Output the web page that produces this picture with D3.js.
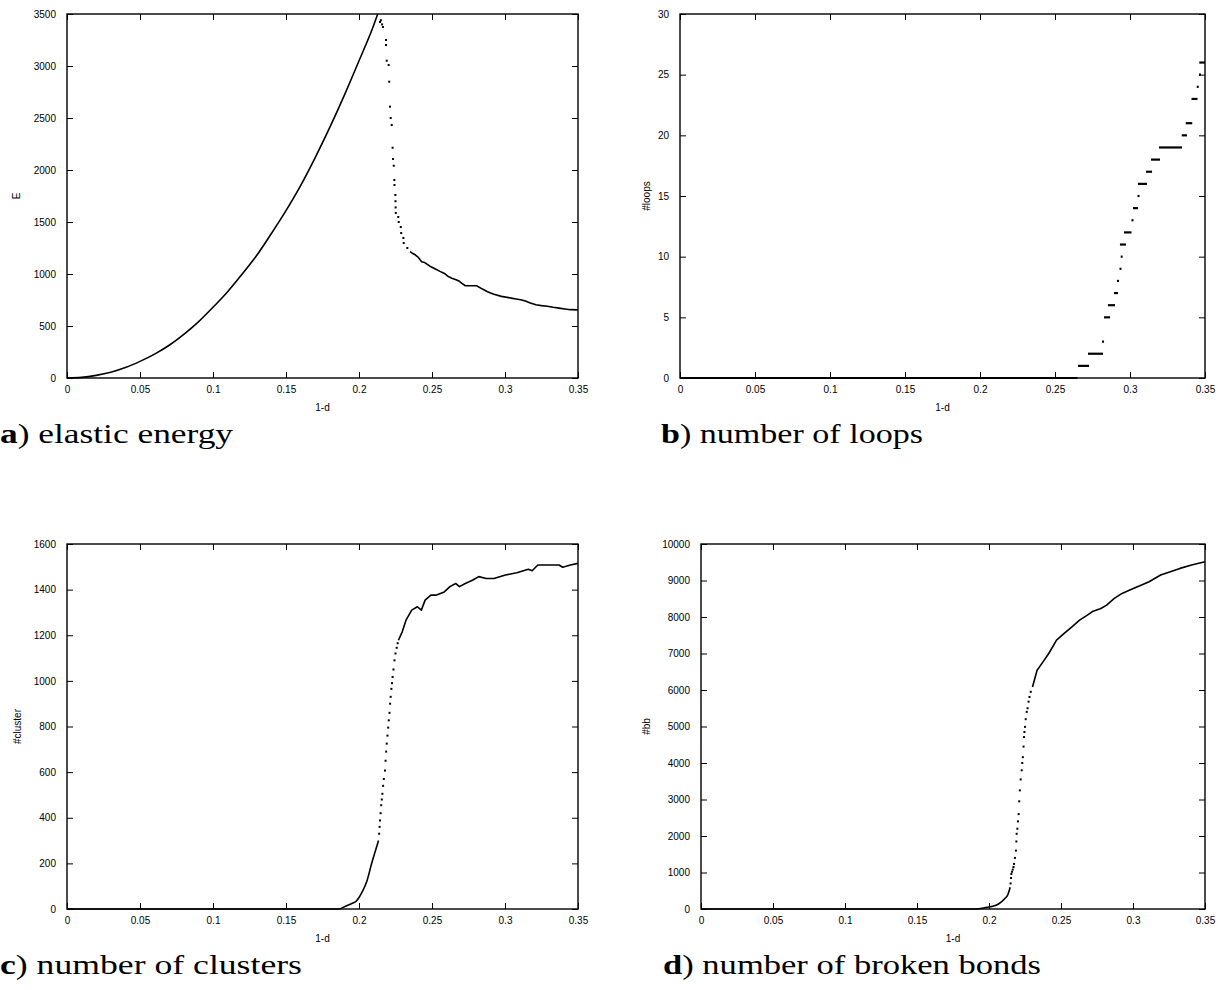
<!DOCTYPE html>
<html>
<head>
<meta charset="utf-8">
<script src="https://cdn.jsdelivr.net/npm/d3@7"></script>
<style>
  html, body { margin: 0; padding: 0; background: #fff; }
  svg { display: block; }
</style>
</head>
<body>
<svg id="chart" width="1226" height="990"></svg>
<script>
// ---------------- DATA ----------------
const xTicks = [0, 0.05, 0.1, 0.15, 0.2, 0.25, 0.3, 0.35];
const xTickLabels = ["0", "0.05", "0.1", "0.15", "0.2", "0.25", "0.3", "0.35"];

// a) elastic energy
const energyTicks = [0, 500, 1000, 1500, 2000, 2500, 3000, 3500];
const energyRiseX = [0, 0.01, 0.02, 0.03, 0.04, 0.05, 0.06, 0.07, 0.08, 0.09, 0.10, 0.11, 0.12, 0.13, 0.14, 0.15, 0.16, 0.17, 0.18, 0.19, 0.20, 0.21, 0.2128];
const energyRiseY = [0, 6, 25, 55, 100, 160, 230, 315, 420, 540, 680, 830, 1000, 1180, 1390, 1610, 1850, 2120, 2410, 2720, 3050, 3390, 3500];
const energyDotsX = [0.2144, 0.2150, 0.2158, 0.2164, 0.2185, 0.2185, 0.2190, 0.2203, 0.2207, 0.2212, 0.2217, 0.2224, 0.2230, 0.2233, 0.2238, 0.2242, 0.2243, 0.2249, 0.2250, 0.2251, 0.2252, 0.2269, 0.2272, 0.2286, 0.2289, 0.2304, 0.2306, 0.2331];
const energyDotsY = [3423, 3440, 3400, 3375, 3250, 3202, 3051, 3010, 2849, 2609, 2500, 2433, 2214, 2106, 2041, 1904, 1856, 1760, 1700, 1640, 1587, 1548, 1500, 1452, 1394, 1346, 1298, 1250];
const energyTailX = [0.2349, 0.2365, 0.2385, 0.2404, 0.2429, 0.2450, 0.2486, 0.2520, 0.2555, 0.2585, 0.2612, 0.2636, 0.2665, 0.2688, 0.2705, 0.2728, 0.2806, 0.2846, 0.2880, 0.2924, 0.2976, 0.3042, 0.3075, 0.3107, 0.3140, 0.3173, 0.3212, 0.3250, 0.3290, 0.3330, 0.3370, 0.3410, 0.3448, 0.3500];
const energyTailY = [1215, 1200, 1185, 1163, 1118, 1110, 1075, 1050, 1025, 1005, 975, 960, 945, 930, 910, 887, 887, 855, 830, 805, 785, 768, 760, 752, 740, 722, 704, 696, 690, 680, 672, 664, 657, 655];

// b) number of loops (level, start, end)
const loopsTicks = [0, 5, 10, 15, 20, 25, 30];
const loopsLevel = [0, 1, 2, 3, 5, 6, 7, 8, 9, 10, 11, 12, 13, 14, 15, 16, 17, 18, 19, 20, 21, 23, 24, 25, 26];
const loopsStart = [0, 0.2653, 0.2720, 0.2813, 0.2827, 0.2853, 0.2893, 0.2913, 0.2930, 0.2938, 0.2933, 0.2960, 0.3010, 0.3020, 0.3050, 0.3053, 0.3107, 0.3140, 0.3193, 0.3345, 0.3372, 0.3410, 0.3445, 0.3460, 0.3462];
const loopsEnd   = [0.2650, 0.2727, 0.2820, 0.2827, 0.2867, 0.2900, 0.2920, 0.2927, 0.2936, 0.2944, 0.2973, 0.3010, 0.3016, 0.3053, 0.3056, 0.3113, 0.3147, 0.3200, 0.3347, 0.3380, 0.3415, 0.3450, 0.3451, 0.3466, 0.3500];

// c) number of clusters
const clusterTicks = [0, 200, 400, 600, 800, 1000, 1200, 1400, 1600];
const clusterRiseX = [0, 0.1864, 0.1900, 0.1955, 0.1980, 0.2020, 0.2055, 0.2086, 0.2113, 0.2134];
const clusterRiseY = [0, 0, 10, 25, 34, 73, 124, 198, 256, 300];
const clusterDotsX = [0.2138, 0.2141, 0.2144, 0.2148, 0.2152, 0.2156, 0.2160, 0.2165, 0.2170, 0.2178, 0.2182, 0.2186, 0.2190, 0.2195, 0.2200, 0.2204, 0.2209, 0.2213, 0.2217, 0.2222, 0.2226, 0.2230, 0.2236, 0.2243, 0.2250, 0.2258, 0.2265];
const clusterDotsY = [330, 360, 388, 420, 455, 480, 505, 540, 570, 607, 650, 690, 725, 760, 795, 827, 860, 900, 930, 965, 990, 1017, 1050, 1090, 1120, 1145, 1165];
const clusterTailX = [0.2270, 0.2296, 0.2322, 0.2361, 0.2400, 0.2427, 0.2453, 0.2492, 0.2531, 0.2584, 0.2623, 0.2662, 0.2688, 0.2728, 0.2780, 0.2820, 0.2872, 0.2924, 0.3003, 0.3081, 0.3160, 0.3186, 0.3225, 0.3290, 0.3370, 0.3395, 0.3448, 0.3500];
const clusterTailY = [1178, 1215, 1266, 1310, 1325, 1310, 1354, 1376, 1376, 1390, 1413, 1427, 1413, 1427, 1442, 1457, 1449, 1449, 1464, 1474, 1489, 1483, 1508, 1508, 1508, 1498, 1508, 1515];

// d) number of broken bonds
const bbTicks = [0, 1000, 2000, 3000, 4000, 5000, 6000, 7000, 8000, 9000, 10000];
const bbRiseX = [0, 0.1906, 0.1986, 0.2026, 0.2066, 0.2107, 0.2133, 0.2147];
const bbRiseY = [0, 0, 46, 73, 137, 274, 412, 595];
const bbDotsX = [0.2150, 0.2153, 0.2155, 0.2160, 0.2165, 0.2170, 0.2174, 0.2180, 0.2187, 0.2190, 0.2192, 0.2197, 0.2201, 0.2206, 0.2210, 0.2214, 0.2220, 0.2227, 0.2231, 0.2235, 0.2240, 0.2243, 0.2246, 0.2250, 0.2255, 0.2262, 0.2268, 0.2275, 0.2281, 0.2290];
const bbDotsY = [700, 850, 960, 1020, 1080, 1150, 1235, 1400, 1600, 1850, 2060, 2200, 2400, 2600, 2950, 3250, 3550, 3800, 4000, 4160, 4450, 4710, 4850, 4990, 5200, 5400, 5500, 5680, 5810, 5950];
const bbTailX = [0.2302, 0.2334, 0.2375, 0.2415, 0.2469, 0.2522, 0.2576, 0.2629, 0.2683, 0.2723, 0.2777, 0.2817, 0.2870, 0.2924, 0.2978, 0.3031, 0.3112, 0.3192, 0.3259, 0.3326, 0.3407, 0.3500];
const bbTailY = [6080, 6540, 6770, 7000, 7365, 7550, 7730, 7914, 8050, 8160, 8234, 8325, 8509, 8646, 8737, 8829, 8966, 9149, 9240, 9332, 9423, 9515];

// ---------------- DRAWING ----------------
const svg = d3.select("#chart");
const zip = (xs, ys) => xs.map((x, i) => [x, ys[i]]);

const panels = [
  { left: 67, right: 578, top: 14, bottom: 378, yMax: 3500, yTicks: energyTicks, ylabel: "E", ylabelX: 17,
    letter: "a)", caption: " elastic energy", capX: 0, capY: 443, capW: 233,
    lines: [{ pts: zip(energyRiseX, energyRiseY), smooth: true }, { pts: zip(energyTailX, energyTailY) }], dots: zip(energyDotsX, energyDotsY) },
  { left: 680, right: 1205, top: 14, bottom: 378, yMax: 30, yTicks: loopsTicks, ylabel: "#loops", ylabelX: 647,
    letter: "b)", caption: " number of loops", capX: 661, capY: 443, capW: 262,
    lines: [], dots: [], steps: loopsLevel.map((v, i) => [loopsStart[i], loopsEnd[i], v]) },
  { left: 67, right: 578, top: 544, bottom: 909, yMax: 1600, yTicks: clusterTicks, ylabel: "#cluster", ylabelX: 18,
    letter: "c)", caption: " number of clusters", capX: 0, capY: 974, capW: 302,
    lines: [{ pts: zip(clusterRiseX, clusterRiseY), smooth: true }, { pts: zip(clusterTailX, clusterTailY) }], dots: zip(clusterDotsX, clusterDotsY) },
  { left: 701, right: 1205, top: 544, bottom: 909, yMax: 10000, yTicks: bbTicks, ylabel: "#bb", ylabelX: 647,
    letter: "d)", caption: " number of broken bonds", capX: 663, capY: 974, capW: 378,
    lines: [{ pts: zip(bbRiseX, bbRiseY), smooth: true }, { pts: zip(bbTailX, bbTailY) }], dots: zip(bbDotsX, bbDotsY) }
];

panels.forEach(p => {
  const w = p.right - p.left, h = p.bottom - p.top;
  const x = d3.scaleLinear().domain([0, 0.35]).range([0, w]);
  const y = d3.scaleLinear().domain([0, p.yMax]).range([h, 0]);
  const g = svg.append("g").attr("transform", `translate(${p.left},${p.top})`);

  const fmtX = d => xTickLabels[xTicks.indexOf(d)];
  const styleAxis = sel => {
    sel.select(".domain").remove();
    sel.selectAll("line").attr("stroke", "#000").attr("stroke-width", 1);
    sel.selectAll("text").attr("fill", "#000").style("font-family", "'Liberation Sans', Arial, sans-serif").style("font-size", "10px");
  };

  g.append("g").attr("transform", `translate(0,${h})`)
    .call(d3.axisBottom(x).tickValues(xTicks).tickFormat(fmtX).tickSizeInner(-6).tickSizeOuter(0).tickPadding(8))
    .call(styleAxis);
  g.append("g")
    .call(d3.axisTop(x).tickValues(xTicks).tickFormat("").tickSizeInner(-6).tickSizeOuter(0))
    .call(styleAxis);
  g.append("g")
    .call(d3.axisLeft(y).tickValues(p.yTicks).tickFormat(d => String(d)).tickSizeInner(-6).tickSizeOuter(0).tickPadding(11))
    .call(styleAxis);
  g.append("g").attr("transform", `translate(${w},0)`)
    .call(d3.axisRight(y).tickValues(p.yTicks).tickFormat("").tickSizeInner(-6).tickSizeOuter(0))
    .call(styleAxis);

  g.append("rect").attr("x", 0).attr("y", 0).attr("width", w).attr("height", h)
    .attr("fill", "none").attr("stroke", "#000").attr("stroke-width", 1.4);

  // data
  p.lines.forEach(L => {
    const line = d3.line().x(d => x(d[0])).y(d => y(d[1])).curve(L.smooth ? d3.curveMonotoneX : d3.curveLinear);
    g.append("path").datum(L.pts).attr("d", line)
      .attr("fill", "none").attr("stroke", "#000").attr("stroke-width", 1.6).attr("stroke-linejoin", "round");
  });
  g.selectAll("rect.dot").data(p.dots).join("rect").attr("class", "dot")
    .attr("x", d => x(d[0]) - 1).attr("y", d => y(d[1]) - 1)
    .attr("width", 2).attr("height", 2).attr("fill", "#000");
  if (p.steps) {
    g.selectAll("line.step").data(p.steps).join("line").attr("class", "step")
      .attr("x1", d => x(d[0])).attr("x2", d => Math.max(x(d[1]), x(d[0]) + 2))
      .attr("y1", d => y(d[2])).attr("y2", d => y(d[2]))
      .attr("stroke", "#000").attr("stroke-width", 2.2);
  }

  // axis labels
  g.append("text").attr("x", w / 2).attr("y", h + 33).attr("text-anchor", "middle")
    .style("font-family", "'Liberation Sans', Arial, sans-serif").style("font-size", "10px").text("1-d");
  svg.append("text")
    .attr("transform", `translate(${p.ylabelX + 3},${p.top + h / 2}) rotate(-90)`)
    .attr("text-anchor", "middle")
    .style("font-family", "'Liberation Sans', Arial, sans-serif").style("font-size", "10px").text(p.ylabel);

  // caption
  const cap = svg.append("text").attr("x", p.capX).attr("y", p.capY)
    .attr("textLength", p.capW).attr("lengthAdjust", "spacingAndGlyphs")
    .style("font-family", "'Liberation Serif', 'Times New Roman', serif").style("font-size", "28px");
  cap.append("tspan").style("font-weight", "bold").text(p.letter[0]);
  cap.append("tspan").text(p.letter.slice(1) + p.caption);
});
</script>
</body>
</html>
